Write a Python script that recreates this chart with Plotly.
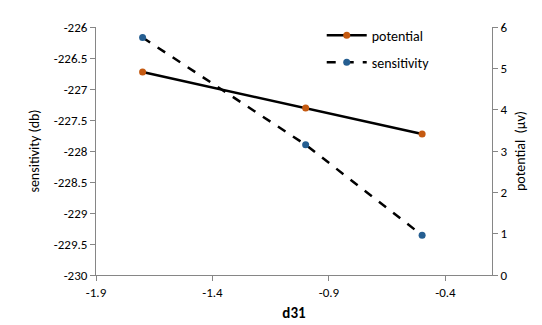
import plotly.graph_objects as go

d31 = [-1.7, -1.0, -0.5]
potential = [4.91, 4.04, 3.41]
sensitivity = [-226.17, -227.90, -229.36]

x_ticks = [-1.9, -1.4, -0.9, -0.4]
x_labels = ["-1.9", "-1.4", "-0.9", "-0.4"]
y_ticks = [-230, -229.5, -229, -228.5, -228, -227.5, -227, -226.5, -226]
y_labels = ["-230", "-229.5", "-229", "-228.5", "-228", "-227.5", "-227", "-226.5", "-226"]
y2_ticks = [0, 1, 2, 3, 4, 5, 6]
y2_labels = ["0", "1", "2", "3", "4", "5", "6"]

font_family = "Carlito, Calibri, Lato, 'Open Sans', sans-serif"
axis_color = "#868686"

fig = go.Figure()
fig.add_trace(go.Scatter(
    x=d31, y=potential, name="potential", yaxis="y2",
    mode="lines+markers", legendgroup="a",
    line=dict(color="black", width=2.5),
    marker=dict(color="#C55A11", size=7),
))
fig.add_trace(go.Scatter(
    x=d31, y=sensitivity, name="sensitivity", yaxis="y",
    mode="lines+markers", legendgroup="b",
    line=dict(color="black", width=2.5, dash="dash"),
    marker=dict(color="#255E91", size=7),
))

fig.update_layout(
    width=542, height=325,
    margin=dict(l=88, r=58, t=14, b=58),
    paper_bgcolor="white", plot_bgcolor="white",
    font=dict(family=font_family, size=13, color="#000000"),
    xaxis=dict(
        range=[-1.9, -0.2], tickvals=x_ticks, ticktext=x_labels,
        showgrid=False, zeroline=False, showline=True, linecolor=axis_color,
        ticks="outside", ticklen=5, tickcolor=axis_color,
        title=dict(text="<b>d31</b>", font=dict(size=15), standoff=8),
    ),
    yaxis=dict(
        range=[-230, -226], tickvals=y_ticks, ticktext=y_labels,
        showgrid=False, zeroline=False, showline=True, linecolor=axis_color,
        ticks="outside", ticklen=5, tickcolor=axis_color,
        title=dict(text="sensitivity (db)", font=dict(size=14), standoff=10),
    ),
    yaxis2=dict(
        range=[0, 6], tickvals=y2_ticks, ticktext=y2_labels,
        overlaying="y", side="right",
        showgrid=False, zeroline=False, showline=True, linecolor=axis_color,
        ticks="outside", ticklen=5, tickcolor=axis_color,
        title=dict(text="potential  (μv)", font=dict(size=14), standoff=8),
    ),
    legend=dict(
        x=0.57, y=1.03, xanchor="left", yanchor="top",
        bgcolor="rgba(0,0,0,0)", traceorder="grouped", tracegroupgap=6,
        font=dict(size=14), itemwidth=40,
    ),
    showlegend=True,
)

fig.write_html("out.html")
